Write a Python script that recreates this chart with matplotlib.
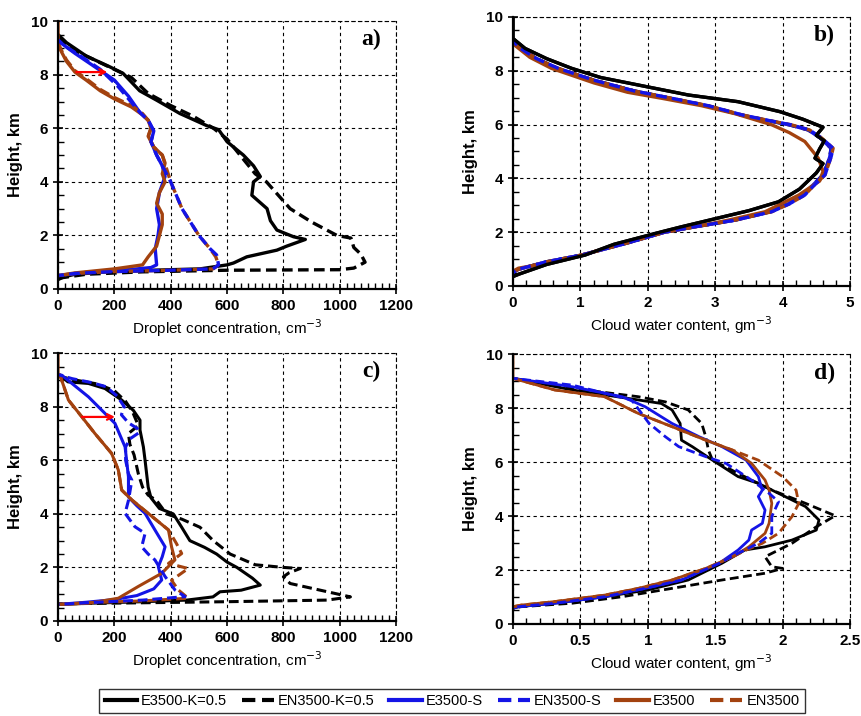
import matplotlib
matplotlib.use('Agg')
import matplotlib.pyplot as plt
from matplotlib.lines import Line2D
from matplotlib.ticker import MultipleLocator, FormatStrFormatter

plt.rcParams['font.family'] = ['Liberation Sans Narrow', 'Liberation Sans', 'DejaVu Sans']

# ---------- panel a: droplet concentration ----------
a_ek_x = [0, 30, 100, 183, 231, 290, 350, 433, 528, 570, 600, 658, 694, 718, 694, 688, 742, 754, 777, 836, 878, 812, 777, 670, 623, 600, 504, 400, 200, 60, 20, 0]
a_ek_y = [9.5, 9.2, 8.7, 8.3, 8.05, 7.4, 7.05, 6.55, 6.1, 5.95, 5.5, 5.0, 4.6, 4.2, 4.0, 3.5, 3.0, 2.55, 2.2, 1.95, 1.85, 1.6, 1.45, 1.2, 0.97, 0.9, 0.75, 0.72, 0.66, 0.55, 0.45, 0.35]
a_enk_x = [0, 40, 120, 200, 260, 320, 400, 480, 552, 600, 646, 700, 740, 824, 900, 990, 1040, 1050, 1075, 1090, 1050, 1000, 600, 300, 100, 0]
a_enk_y = [9.4, 9.0, 8.6, 8.2, 7.9, 7.3, 6.85, 6.45, 6.0, 5.6, 5.0, 4.3, 4.0, 3.0, 2.5, 2.0, 1.9, 1.55, 1.3, 1.0, 0.78, 0.72, 0.7, 0.64, 0.55, 0.4]
a_es_x = [0, 15, 60, 130, 200, 250, 290, 320, 340, 330, 350, 370, 380, 360, 350, 360, 355, 345, 350, 330, 250, 100, 0]
a_es_y = [9.3, 9.15, 8.8, 8.3, 7.8, 7.2, 6.6, 6.3, 5.9, 5.5, 5.0, 4.6, 4.2, 3.6, 3.0, 2.4, 2.0, 1.5, 0.9, 0.8, 0.72, 0.62, 0.5]
a_ens_x = [0, 20, 80, 150, 214, 250, 290, 320, 340, 330, 350, 380, 400, 420, 440, 470, 500, 540, 563, 570, 550, 400, 200, 60, 0]
a_ens_y = [9.3, 9.1, 8.7, 8.2, 7.55, 7.1, 6.6, 6.3, 5.9, 5.5, 5.0, 4.4, 4.0, 3.5, 3.0, 2.5, 2.0, 1.5, 1.27, 0.9, 0.75, 0.7, 0.65, 0.58, 0.5]
a_e_x = [0, 0, 10, 30, 60, 100, 150, 200, 260, 300, 320, 330, 320, 340, 370, 380, 370, 380, 360, 350, 370, 370, 360, 350, 320, 300, 200, 60, 0]
a_e_y = [10, 9.2, 8.9, 8.5, 8.1, 7.8, 7.4, 7.1, 6.8, 6.5, 6.3, 6.0, 5.7, 5.3, 5.0, 4.7, 4.3, 4.0, 3.6, 3.2, 2.8, 2.4, 2.0, 1.6, 1.2, 0.9, 0.75, 0.6, 0.5]
a_en_x = [0, 10, 30, 60, 100, 150, 200, 260, 300, 320, 330, 320, 340, 370, 385, 400, 420, 440, 470, 500, 540, 560, 570, 550, 400, 200, 60, 0]
a_en_y = [9.2, 8.95, 8.55, 8.15, 7.85, 7.45, 7.15, 6.85, 6.55, 6.3, 6.0, 5.7, 5.3, 5.0, 4.5, 4.0, 3.5, 3.0, 2.5, 2.0, 1.5, 1.2, 0.9, 0.75, 0.7, 0.65, 0.58, 0.5]

# ---------- panel b: cloud water content ----------
b_ek_x = [0, 0, 0.18, 0.5, 0.87, 1.3, 2.0, 2.6, 3.34, 3.96, 4.3, 4.6, 4.5, 4.62, 4.55, 4.48, 4.6, 4.5, 4.25, 3.94, 3.5, 3.0, 2.5, 2.2, 1.5, 1.07, 0.5, 0.1, 0]
b_ek_y = [10, 9.2, 8.83, 8.45, 8.09, 7.75, 7.4, 7.1, 6.85, 6.48, 6.2, 5.9, 5.6, 5.4, 5.1, 4.75, 4.55, 4.2, 3.6, 3.13, 2.8, 2.5, 2.2, 2.01, 1.55, 1.15, 0.8, 0.45, 0.35]
b_es_x = [0, 0.1, 0.35, 0.66, 1.2, 1.8, 2.33, 2.88, 3.38, 3.78, 4.1, 4.38, 4.56, 4.72, 4.7, 4.66, 4.6, 4.43, 4.3, 4.08, 3.82, 3.3, 2.7, 2.25, 1.7, 1.02, 0.5, 0.08, 0]
b_es_y = [9.1, 8.85, 8.45, 8.09, 7.65, 7.25, 6.98, 6.7, 6.36, 6.15, 5.99, 5.8, 5.5, 5.12, 4.8, 4.5, 4.13, 3.7, 3.38, 3.05, 2.76, 2.45, 2.2, 2.0, 1.6, 1.15, 0.9, 0.62, 0.5]
b_ens_x = [0, 0.1, 0.35, 0.67, 1.2, 1.8, 2.35, 2.9, 3.4, 3.8, 4.13, 4.4, 4.58, 4.75, 4.72, 4.68, 4.63, 4.45, 4.33, 4.1, 3.84, 3.3, 2.7, 2.25, 1.7, 1.02, 0.5, 0.08, 0]
b_ens_y = [9.1, 8.85, 8.45, 8.09, 7.65, 7.25, 6.98, 6.7, 6.36, 6.15, 5.99, 5.8, 5.5, 5.12, 4.8, 4.5, 4.13, 3.7, 3.38, 3.05, 2.76, 2.45, 2.2, 2.0, 1.6, 1.15, 0.9, 0.62, 0.5]
b_e_x = [0, 0.05, 0.25, 0.57, 1.2, 1.7, 2.2, 2.8, 3.3, 3.84, 4.1, 4.33, 4.53, 4.6, 4.55, 4.24, 3.74, 3.2, 2.7, 2.25, 1.6, 1.02, 0.5, 0.08, 0]
b_e_y = [9.0, 8.9, 8.5, 8.09, 7.55, 7.2, 6.98, 6.7, 6.4, 5.99, 5.7, 5.37, 4.75, 4.26, 3.9, 3.38, 2.76, 2.45, 2.2, 2.0, 1.55, 1.15, 0.85, 0.66, 0.55]
b_en_x = b_ens_x
b_en_y = b_ens_y

# ---------- panel c: droplet concentration ----------
c_ek_x = [0, 7, 35, 108, 167, 226, 267, 291, 291, 303, 309, 320, 330, 360, 409, 439, 468, 520, 563, 600, 635, 690, 718, 650, 575, 550, 457, 300, 100, 0]
c_ek_y = [9.2, 9.18, 8.93, 8.87, 8.68, 8.25, 7.87, 7.5, 7.13, 6.5, 6.0, 5.0, 4.6, 4.2, 4.0, 3.5, 3.0, 2.75, 2.5, 2.2, 2.0, 1.6, 1.34, 1.15, 1.09, 0.9, 0.78, 0.72, 0.66, 0.62]
c_enk_x = [0, 60, 140, 200, 240, 265, 285, 250, 255, 270, 285, 300, 320, 350, 385, 440, 504, 551, 611, 700, 800, 860, 820, 800, 824, 931, 1038, 955, 600, 300, 0]
c_enk_y = [9.15, 9.0, 8.85, 8.6, 8.2, 7.8, 7.3, 7.0, 6.6, 6.2, 5.5, 5.0, 4.7, 4.5, 4.0, 3.8, 3.5, 3.0, 2.5, 2.1, 2.0, 1.96, 1.8, 1.65, 1.4, 1.15, 0.9, 0.78, 0.72, 0.68, 0.64]
c_es_x = [0, 13, 108, 202, 238, 250, 250, 280, 309, 344, 380, 370, 356, 368, 340, 280, 200, 100, 0]
c_es_y = [9.2, 9.18, 8.37, 7.38, 6.5, 5.38, 4.63, 4.3, 4.02, 3.4, 2.77, 2.4, 2.03, 1.53, 1.2, 0.95, 0.8, 0.7, 0.62]
c_ens_x = [0, 50, 120, 170, 210, 235, 225, 250, 280, 290, 255, 240, 240, 250, 262, 250, 238, 273, 309, 297, 320, 344, 380, 415, 451, 300, 100, 0]
c_ens_y = [9.2, 9.05, 8.9, 8.75, 8.4, 8.0, 7.7, 7.4, 7.2, 7.05, 6.8, 6.5, 6.0, 5.5, 5.26, 4.5, 4.02, 3.52, 3.27, 2.77, 2.5, 2.28, 1.66, 1.16, 0.91, 0.78, 0.68, 0.62]
c_e_x = [0, 0, 7, 37, 84, 131, 190, 214, 226, 262, 320, 392, 403, 415, 368, 285, 214, 108, 0]
c_e_y = [10, 9.2, 9.18, 8.25, 7.63, 7.0, 6.26, 5.64, 4.89, 4.52, 4.02, 3.4, 2.77, 2.28, 1.78, 1.29, 0.85, 0.66, 0.62]
c_en_x = [0, 7, 37, 84, 131, 190, 214, 226, 262, 320, 392, 420, 439, 392, 462, 403, 427, 462, 300, 100, 0]
c_en_y = [9.2, 9.18, 8.25, 7.63, 7.0, 6.26, 5.64, 4.89, 4.52, 4.02, 3.4, 2.9, 2.52, 2.15, 1.96, 1.52, 1.16, 0.85, 0.75, 0.68, 0.62]

# ---------- panel d: cloud water content ----------
d_ek_x = [0, 0.44, 0.93, 1.1, 1.18, 1.24, 1.25, 1.33, 1.48, 1.67, 1.82, 1.97, 2.17, 2.27, 2.25, 2.07, 1.87, 1.72, 1.55, 1.3, 1.0, 0.68, 0.31, 0.04, 0]
d_ek_y = [9.1, 8.67, 8.3, 8.17, 7.93, 7.43, 6.81, 6.57, 6.07, 5.46, 5.21, 4.84, 4.35, 3.85, 3.48, 3.11, 2.86, 2.74, 2.25, 1.63, 1.26, 1.01, 0.77, 0.64, 0.58]
d_enk_x = [0, 0.44, 0.93, 1.13, 1.3, 1.4, 1.43, 1.45, 1.48, 1.67, 1.92, 2.17, 2.39, 2.25, 2.07, 1.87, 1.92, 2.0, 1.87, 1.55, 1.18, 0.81, 0.44, 0.06, 0]
d_enk_y = [9.1, 8.73, 8.42, 8.23, 7.93, 7.43, 6.94, 6.44, 6.07, 5.58, 4.96, 4.47, 4.01, 3.6, 2.99, 2.49, 2.12, 2.06, 1.88, 1.63, 1.32, 1.01, 0.77, 0.64, 0.58]
d_es_x = [0, 0.44, 0.81, 0.98, 1.18, 1.38, 1.55, 1.73, 1.82, 1.85, 1.82, 1.87, 1.85, 1.77, 1.75, 1.67, 1.53, 1.25, 0.98, 0.68, 0.31, 0.04, 0]
d_es_y = [9.1, 8.79, 8.42, 8.05, 7.43, 6.94, 6.57, 6.07, 5.46, 4.96, 4.72, 4.22, 3.73, 3.48, 3.11, 2.74, 2.25, 1.63, 1.32, 1.01, 0.77, 0.64, 0.58]
d_ens_x = [0, 0.44, 0.88, 1.01, 1.13, 1.23, 1.43, 1.58, 1.77, 1.9, 1.97, 1.92, 1.92, 1.82, 1.67, 1.53, 1.25, 0.98, 0.68, 0.31, 0.04, 0]
d_ens_y = [9.1, 8.85, 8.3, 7.43, 6.94, 6.57, 6.2, 5.95, 5.33, 4.84, 4.53, 3.98, 3.36, 2.99, 2.62, 2.25, 1.63, 1.32, 1.01, 0.77, 0.64, 0.58]
d_e_x = [0, 0, 0.31, 0.68, 0.93, 1.18, 1.43, 1.63, 1.77, 1.87, 1.9, 1.92, 1.9, 1.87, 1.75, 1.63, 1.43, 1.18, 0.93, 0.68, 0.31, 0.06, 0]
d_e_y = [10, 9.1, 8.67, 8.42, 7.8, 7.31, 6.81, 6.44, 5.95, 5.33, 4.96, 4.47, 3.73, 3.36, 2.86, 2.49, 2.06, 1.63, 1.32, 1.07, 0.83, 0.7, 0.64]
d_en_x = [0, 0.31, 0.68, 0.93, 1.18, 1.43, 1.63, 1.82, 2.0, 2.1, 2.12, 2.07, 1.97, 1.85, 1.73, 1.63, 1.43, 1.18, 0.93, 0.68, 0.31, 0.06, 0]
d_en_y = [9.1, 8.67, 8.42, 7.8, 7.31, 6.81, 6.44, 6.07, 5.46, 4.96, 4.47, 3.98, 3.36, 2.99, 2.74, 2.49, 2.06, 1.63, 1.32, 1.07, 0.83, 0.7, 0.64]

# red arrows (start x, end x, height)
a_arrow = (55, 185, 8.1)
c_arrow = (75, 212, 7.62)

labels = ['E3500-K=0.5', 'EN3500-K=0.5', 'E3500-S', 'EN3500-S', 'E3500', 'EN3500']

BLACK = 'black'
BLUE = '#1414e6'
BROWN = '#a3420f'
DASH = (0, (3.2, 1.6))

fig = plt.figure(figsize=(8.61, 7.16), dpi=100)
ax_a = fig.add_axes([0.0674, 0.5964, 0.3926, 0.374])
ax_b = fig.add_axes([0.5958, 0.6006, 0.3914, 0.3757])
ax_c = fig.add_axes([0.0674, 0.1327, 0.3926, 0.374])
ax_d = fig.add_axes([0.5958, 0.1285, 0.3914, 0.377])


def draw(ax, series, lw):
    # series order: ek, enk, es, ens, e, en
    (ek, enk, es, ens, e, en) = series
    ax.plot(*enk, color=BLACK, lw=lw, ls=DASH)
    ax.plot(*ek, color=BLACK, lw=lw)
    ax.plot(*es, color=BLUE, lw=lw)
    ax.plot(*e, color=BROWN, lw=lw)
    ax.plot(*en, color=BROWN, lw=lw, ls=DASH)
    ax.plot(*ens, color=BLUE, lw=lw, ls=(1.5, (3.2, 1.6)))


def style(ax, xmax, xmaj, xmin, xlabel, tag):
    ax.set_xlim(0, xmax)
    ax.set_ylim(0, 10)
    ax.xaxis.set_major_locator(MultipleLocator(xmaj))
    ax.xaxis.set_minor_locator(MultipleLocator(xmin))
    ax.xaxis.set_major_formatter(FormatStrFormatter('%g'))
    ax.yaxis.set_major_locator(MultipleLocator(2))
    ax.yaxis.set_minor_locator(MultipleLocator(0.5))
    ax.grid(True, which='major', color='black', ls=(0, (3, 3)), lw=0.8)
    for s in ['top', 'right']:
        ax.spines[s].set_linestyle((0, (3, 3)))
        ax.spines[s].set_linewidth(0.8)
    for s in ['left', 'bottom']:
        ax.spines[s].set_linewidth(1.6)
    ax.tick_params(which='major', direction='inout', length=7, width=1.2, labelsize=11)
    ax.tick_params(which='minor', direction='in', length=4, width=1.0)
    ax.tick_params(top=False, right=False)
    ax.set_xlabel(xlabel, fontsize=11, labelpad=3)
    ax.set_ylabel('Height, km', fontsize=12, fontweight='bold', labelpad=6)
    ax.text(0.955, 0.93, tag, transform=ax.transAxes, ha='right', va='center',
            fontsize=17, fontweight='bold', family='Liberation Serif')


draw(ax_a, [(a_ek_x, a_ek_y), (a_enk_x, a_enk_y), (a_es_x, a_es_y),
            (a_ens_x, a_ens_y), (a_e_x, a_e_y), (a_en_x, a_en_y)], 2.4)
draw(ax_b, [(b_ek_x, b_ek_y), (b_es_x, b_es_y), (b_es_x, b_es_y),
            (b_ens_x, b_ens_y), (b_e_x, b_e_y), (b_en_x, b_en_y)], 2.4)
ax_b.plot(b_ek_x, b_ek_y, color=BLACK, lw=2.4)
draw(ax_c, [(c_ek_x, c_ek_y), (c_enk_x, c_enk_y), (c_es_x, c_es_y),
            (c_ens_x, c_ens_y), (c_e_x, c_e_y), (c_en_x, c_en_y)], 2.2)
draw(ax_d, [(d_ek_x, d_ek_y), (d_enk_x, d_enk_y), (d_es_x, d_es_y),
            (d_ens_x, d_ens_y), (d_e_x, d_e_y), (d_en_x, d_en_y)], 2.0)

for ax, arr in [(ax_a, a_arrow), (ax_c, c_arrow)]:
    ax.annotate('', xy=(arr[1], arr[2]), xytext=(arr[0], arr[2]),
                arrowprops=dict(arrowstyle='->', color='red', lw=1.6))

style(ax_a, 1200, 200, 25, 'Droplet concentration, cm$^{-3}$', 'a)')
style(ax_b, 5, 1, 0.2, 'Cloud water content, gm$^{-3}$', 'b)')
style(ax_c, 1200, 200, 25, 'Droplet concentration, cm$^{-3}$', 'c)')
style(ax_d, 2.5, 0.5, 0.1, 'Cloud water content, gm$^{-3}$', 'd)')

handles = [
    Line2D([], [], color=BLACK, lw=3),
    Line2D([], [], color=BLACK, lw=3, ls=DASH),
    Line2D([], [], color=BLUE, lw=3),
    Line2D([], [], color=BLUE, lw=3, ls=DASH),
    Line2D([], [], color=BROWN, lw=3),
    Line2D([], [], color=BROWN, lw=3, ls=DASH),
]
leg = fig.legend(handles, labels, loc='center', bbox_to_anchor=(0.525, 0.0215),
                 ncol=6, fontsize=10.5, frameon=True, fancybox=False,
                 handlelength=2.2, handletextpad=0.3, columnspacing=1.0,
                 borderpad=0.35, edgecolor='black')
leg.get_frame().set_linewidth(1.0)

fig.canvas.draw()
for ax in [ax_a, ax_b, ax_c, ax_d]:
    plt.setp(ax.get_xticklabels() + ax.get_yticklabels(), fontweight='bold')

fig.savefig('out.png', dpi=100)
